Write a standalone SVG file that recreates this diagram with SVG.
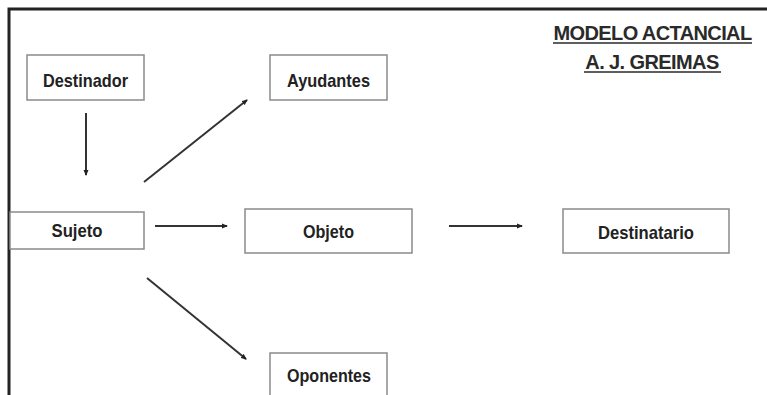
<svg xmlns="http://www.w3.org/2000/svg" width="767" height="395" viewBox="0 0 767 395">
<style>
.box{fill:#fff;stroke:#8a8a8a;stroke-width:1.5}
.lbl{font-family:"Liberation Sans",Arial,sans-serif;font-weight:bold;font-size:19px;fill:#222;text-anchor:middle}
.ttl{font-family:"Liberation Sans",Arial,sans-serif;font-weight:bold;font-size:20px;letter-spacing:-0.6px;fill:#2a2a2a;text-anchor:middle}
.edge{stroke:#333;stroke-width:2;fill:none;marker-end:url(#ah)}
</style>
<defs>
<marker id="ah" markerWidth="6" markerHeight="6" refX="5" refY="3" orient="auto" markerUnits="userSpaceOnUse">
<path d="M0,0.5 L6,3 L0,5.5 Z" fill="#222"/>
</marker>
</defs>
<rect width="767" height="395" fill="#fff"/>
<g id="frame">
<path d="M9,395 V9 H767" fill="none" stroke="#222" stroke-width="3"/>
</g>
<g id="title">
<text class="ttl" x="652.5" y="40">MODELO ACTANCIAL</text>
<line x1="553" y1="43" x2="752" y2="43" stroke="#2a2a2a" stroke-width="1.5"/>
<text class="ttl" x="652" y="69">A. J. GREIMAS</text>
<line x1="584" y1="72" x2="721" y2="72" stroke="#2a2a2a" stroke-width="1.5"/>
</g>
<g id="destinador">
<rect class="box" x="27" y="55" width="117" height="45"/>
<text class="lbl" x="85.5" y="87" textLength="85" lengthAdjust="spacingAndGlyphs">Destinador</text>
</g>
<g id="ayudantes">
<rect class="box" x="270" y="55" width="117" height="45"/>
<text class="lbl" x="328.5" y="87" textLength="83" lengthAdjust="spacingAndGlyphs">Ayudantes</text>
</g>
<g id="sujeto">
<rect class="box" x="10" y="212" width="134" height="37"/>
<text class="lbl" x="77" y="237" textLength="51" lengthAdjust="spacingAndGlyphs">Sujeto</text>
</g>
<g id="objeto">
<rect class="box" x="245" y="209" width="167" height="44"/>
<text class="lbl" x="328.5" y="238" textLength="51" lengthAdjust="spacingAndGlyphs">Objeto</text>
</g>
<g id="destinatario">
<rect class="box" x="563" y="209" width="166" height="44"/>
<text class="lbl" x="646" y="239" textLength="96" lengthAdjust="spacingAndGlyphs">Destinatario</text>
</g>
<g id="oponentes">
<rect class="box" x="270" y="353" width="117" height="50"/>
<text class="lbl" x="329" y="382" textLength="84" lengthAdjust="spacingAndGlyphs">Oponentes</text>
</g>
<g id="connectors">
<line class="edge" x1="86" y1="113" x2="86" y2="175"/>
<line class="edge" x1="144" y1="182" x2="247" y2="100"/>
<line class="edge" x1="155" y1="226" x2="227" y2="226"/>
<line class="edge" x1="449" y1="226" x2="522" y2="226"/>
<line class="edge" x1="147" y1="278" x2="246" y2="359"/>
</g>
</svg>
